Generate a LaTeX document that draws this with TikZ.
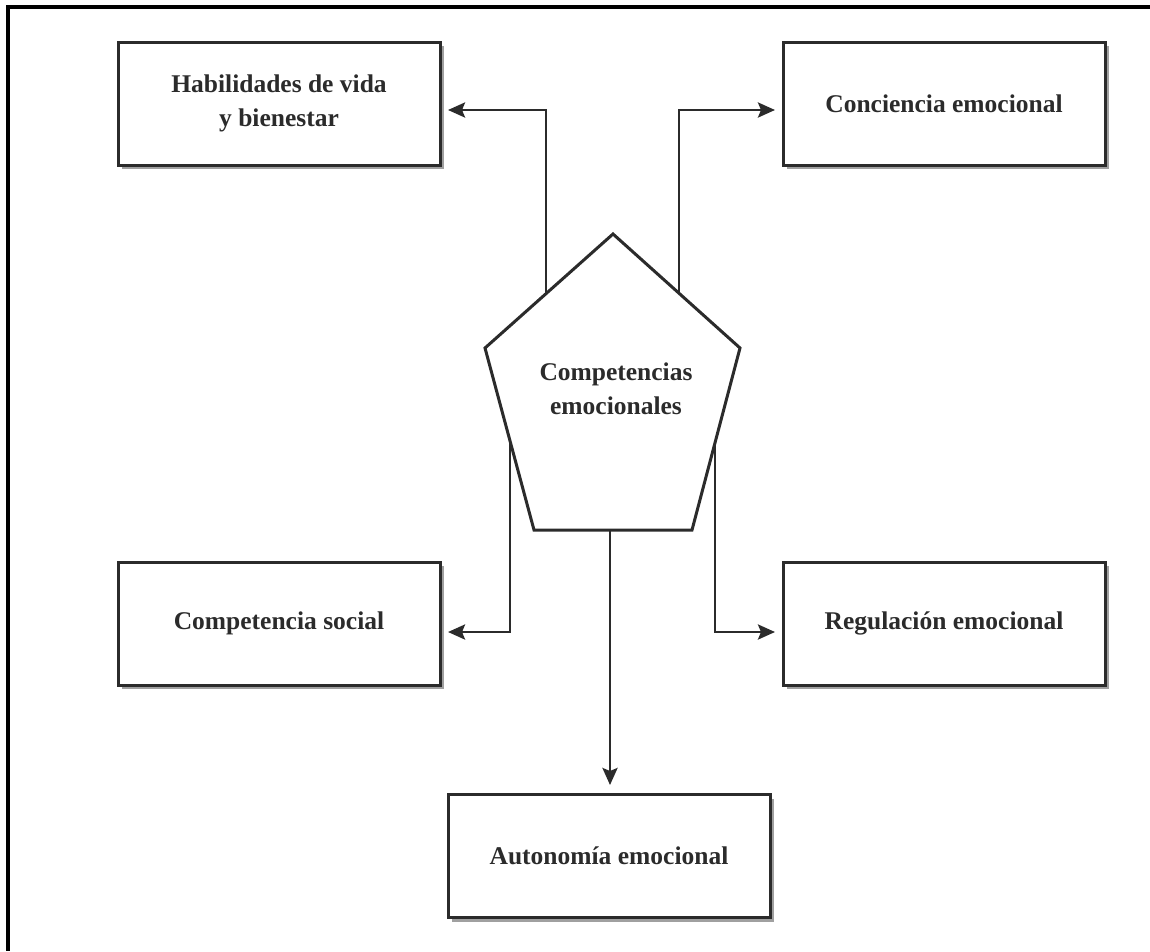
\documentclass[tikz,border=0pt]{standalone}
\usepackage{fontspec}
\setmainfont{Liberation Serif}
\usetikzlibrary{arrows.meta,calc,shadows}
\definecolor{ink}{HTML}{2B2B2B}
\definecolor{shade}{HTML}{A0A0A0}
\begin{document}
\begin{tikzpicture}[x=1pt,y=-1pt,
  label font/.style={font=\bfseries\fontsize{25.5}{34}\selectfont,text=ink},
  box/.style={draw=ink,line width=3pt,fill=white,minimum width=322pt,
    minimum height=123pt,align=center,inner sep=0pt,label font,
    drop shadow={shadow xshift=4pt,shadow yshift=-4pt,fill=shade,opacity=1}},
  conn/.style={draw=ink,line width=2.8pt,
    -{Stealth[length=17pt,width=15pt,inset=3pt]},shorten >=6.5pt},
  frame/.style={draw=black,line width=4pt}]
  \useasboundingbox (0,0) rectangle (1150,951);

  % outer frame (top and left edges)
  \draw[frame] (1150,7) -- (8,7) -- (8,951);

  % outcome boxes
  \node[box] (hab) at (279,103.5) {Habilidades de vida\\y bienestar};
  \node[box] (conc) at (944,103.5) {Conciencia emocional};
  \node[box] (soc) at (279,623.5) {Competencia social};
  \node[box] (reg) at (944,623.5) {Regulación emocional};
  \node[box] (aut) at (609,856) {Autonomía emocional};

  % central pentagon
  \coordinate (pt) at (613,234);
  \coordinate (pl) at (485,348);
  \coordinate (pr) at (740,348);
  \coordinate (pbl) at (534,530);
  \coordinate (pbr) at (692,530);
  \fill[shade,shift={(4,4)}] (pt) -- (pr) -- (pbr) -- (pbl) -- (pl) -- cycle;
  \draw[ink,line width=3pt,fill=white,line join=miter]
    (pt) -- (pr) -- (pbr) -- (pbl) -- (pl) -- cycle;
  \node[label font,align=center] (cen) at (616,389) {Competencias\\emocionales};

  % connector start points on the pentagon edges
  \coordinate (sUL) at ($(pt)!0.523!(pl)$);
  \coordinate (sUR) at ($(pt)!0.52!(pr)$);
  \coordinate (sDL) at ($(pl)!0.51!(pbl)$);
  \coordinate (sDR) at ($(pr)!0.52!(pbr)$);
  \coordinate (sD) at (610,530);

  % connectors
  \draw[conn] (sUL) |- ([yshift=-6.5pt]hab.east);
  \draw[conn] (sUR) |- ([yshift=-6.5pt]conc.west);
  \draw[conn] (sDL) |- ([yshift=-8.5pt]soc.east);
  \draw[conn] (sDR) |- ([yshift=-8.5pt]reg.west);
  \draw[conn,shorten >=8pt] (sD) -- (sD |- aut.north);
\end{tikzpicture}
\end{document}
